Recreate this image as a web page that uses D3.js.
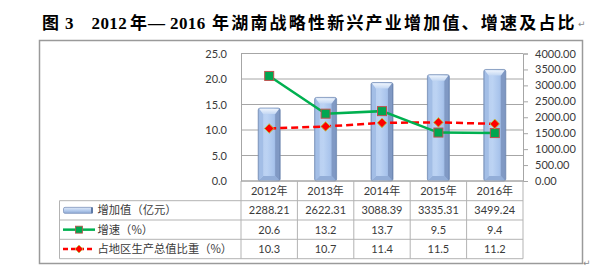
<!DOCTYPE html>
<html><head><meta charset="utf-8">
<script src="https://cdn.jsdelivr.net/npm/d3@7"></script>
<style>
html,body{margin:0;padding:0;background:#fff;}
svg{display:block;}
</style></head>
<body>
<svg id="c" width="614" height="276"></svg>
<script>
// ---- data ----
const titleParts = ["图", "3", "2012", "年", "—", "2016", "年湖南战略性新兴产业增加值、增速及占比"];
const years = ["2012年", "2013年", "2014年", "2015年", "2016年"];
const seriesNames = ["增加值（亿元）", "增速（%）", "占地区生产总值比重（%）"];
const addedValue = [2288.21, 2622.31, 3088.39, 3335.31, 3499.24];
const growth = [20.6, 13.2, 13.7, 9.5, 9.4];
const share = [10.3, 10.7, 11.4, 11.5, 11.2];
const leftTicks = [0, 5, 10, 15, 20, 25];
const rightTicks = [0, 500, 1000, 1500, 2000, 2500, 3000, 3500, 4000];
const tableValues = [
  ["2288.21", "2622.31", "3088.39", "3335.31", "3499.24"],
  ["20.6", "13.2", "13.7", "9.5", "9.4"],
  ["10.3", "10.7", "11.4", "11.5", "11.2"]
];

const svg = d3.select("#c");
const FONT = "Lato, 'Noto Sans CJK SC', sans-serif";
const TXT = "#3a3a3a";

// layout
const pl = 241, pr = 523, pt = 53.5, pb = 181;
const tableLeft = 59.5;
const rowY = [200.7, 220, 239.3, 258.7];

const xS = d3.scaleBand().domain(years).range([pl, pr]).paddingInner(0).paddingOuter(0);
const yL = d3.scaleLinear().domain([0, 25]).range([pb, pt]);
const yR = d3.scaleLinear().domain([0, 4000]).range([pb, pt]);
const midX = i => xS(years[i]) + xS.bandwidth() / 2;

// defs
const defs = svg.append("defs");
const g1 = defs.append("linearGradient").attr("id", "barG").attr("x1", 0).attr("x2", 1).attr("y1", 0).attr("y2", 0);
[[0, "#7f9bc8"], [0.12, "#b9cff0"], [0.4, "#bcd3f3"], [0.7, "#a9c4ec"], [0.88, "#91aedb"], [1, "#5f7aa6"]]
  .forEach(s => g1.append("stop").attr("offset", s[0]).attr("stop-color", s[1]));
const g2 = defs.append("linearGradient").attr("id", "capG").attr("x1", 0).attr("x2", 0).attr("y1", 0).attr("y2", 1);
[[0, "#eef4fc"], [1, "#c3d7f3"]].forEach(s => g2.append("stop").attr("offset", s[0]).attr("stop-color", s[1]));
const g3 = defs.append("linearGradient").attr("id", "keyG").attr("x1", 0).attr("x2", 0).attr("y1", 0).attr("y2", 1);
[[0, "#dfe9f8"], [0.5, "#b7cdee"], [1, "#8ea9d4"]].forEach(s => g3.append("stop").attr("offset", s[0]).attr("stop-color", s[1]));

// outer frame
svg.append("rect").attr("x", 39.5).attr("y", 40.5).attr("width", 543).attr("height", 223)
  .attr("fill", "#fff").attr("stroke", "#9a9a9a").attr("stroke-width", 1.5);

// gridlines
const grid = svg.append("g");
leftTicks.forEach(t => {
  grid.append("line").attr("x1", pl).attr("x2", pr).attr("y1", yL(t)).attr("y2", yL(t))
    .attr("stroke", "#a6a6a6").attr("stroke-width", 1);
});

// left axis
const axL = svg.append("g").attr("transform", `translate(${pl},0)`)
  .call(d3.axisLeft(yL).tickValues(leftTicks).tickFormat(d3.format(".1f")).tickSize(0).tickPadding(14));
axL.select(".domain").attr("stroke", "#a6a6a6");
axL.selectAll("text").attr("font-family", FONT).attr("font-size", 11).attr("fill", TXT);

// right axis
const axR = svg.append("g").attr("transform", `translate(${pr},0)`)
  .call(d3.axisRight(yR).tickValues(rightTicks).tickFormat(d3.format(".2f")).tickSize(5).tickPadding(7));
axR.select(".domain").attr("stroke", "#a6a6a6");
axR.selectAll("line").attr("stroke", "#a6a6a6");
axR.selectAll("text").attr("font-family", FONT).attr("font-size", 11).attr("fill", TXT).attr("text-anchor", "start");

// bars
const bw = 22;
addedValue.forEach((v, i) => {
  const x0 = midX(i) - bw / 2;
  const t = yR(v);
  svg.append("rect").attr("x", x0).attr("width", bw).attr("y", t).attr("height", pb - t)
    .attr("rx", 2).attr("fill", "url(#barG)").attr("stroke", "#7890b8").attr("stroke-width", 0.8);
  svg.append("path").attr("d", `M${x0 + bw - 1},${t + 0.8} L${x0 + bw - 1},${pb - 1} L${x0 + bw - 5},${pb - 5} L${x0 + bw - 5},${t + 6} Z`)
    .attr("fill", "#8099c4");
  svg.append("path").attr("d", `M${x0 + 1},${pb - 1} L${x0 + bw - 1},${pb - 1} L${x0 + bw - 5},${pb - 5} L${x0 + 5},${pb - 5} Z`)
    .attr("fill", "#93aed8");
  svg.append("path").attr("d", `M${x0 + 1},${t + 0.8} L${x0 + 5},${t + 6} L${x0 + 5},${pb - 5} L${x0 + 1},${pb - 1} Z`)
    .attr("fill", "#a3bee6");
  svg.append("path").attr("d", `M${x0 + 1},${t + 0.8} L${x0 + bw - 1},${t + 0.8} L${x0 + bw - 5},${t + 6} L${x0 + 5},${t + 6} Z`)
    .attr("fill", "url(#capG)");
});

// x axis line
svg.append("line").attr("x1", pl).attr("x2", pr).attr("y1", pb).attr("y2", pb).attr("stroke", "#a6a6a6");

// lines
const lineG = d3.line().x((d, i) => midX(i)).y(d => yL(d));
svg.append("path").datum(share).attr("d", lineG).attr("fill", "none")
  .attr("stroke", "#ff0000").attr("stroke-width", 2.5).attr("stroke-dasharray", "7,4");
svg.append("path").datum(growth).attr("d", lineG).attr("fill", "none")
  .attr("stroke", "#00b050").attr("stroke-width", 2.5);

const sq = 9;
growth.forEach((v, i) => {
  svg.append("rect").attr("x", midX(i) - sq / 2).attr("y", yL(v) - sq / 2).attr("width", sq).attr("height", sq)
    .attr("fill", "#00a650").attr("stroke", "#c0504d").attr("stroke-width", 1);
});
const dm = 4.8;
share.forEach((v, i) => {
  const X = midX(i), Y = yL(v);
  svg.append("path").attr("d", `M${X},${Y - dm} L${X + dm},${Y} L${X},${Y + dm} L${X - dm},${Y} Z`)
    .attr("fill", "#ff0000").attr("stroke", "#b5c94f").attr("stroke-width", 1);
});

// table
const tcol = "#b3b3b3";
rowY.forEach(yy => svg.append("line").attr("x1", tableLeft).attr("x2", pr).attr("y1", yy).attr("y2", yy)
  .attr("stroke", tcol).attr("stroke-width", 1));
svg.append("line").attr("x1", tableLeft).attr("x2", tableLeft).attr("y1", rowY[0]).attr("y2", rowY[3]).attr("stroke", tcol);
years.map(y => xS(y)).concat([pr]).forEach(xx =>
  svg.append("line").attr("x1", xx).attr("x2", xx).attr("y1", pb).attr("y2", rowY[3]).attr("stroke", tcol));

years.forEach((yr, i) => {
  svg.append("text").attr("x", midX(i)).attr("y", (pb + rowY[0]) / 2 + 4)
    .attr("text-anchor", "middle").attr("font-family", FONT).attr("font-size", 11).attr("fill", TXT).text(yr);
});

seriesNames.forEach((name, r) => {
  const cy = (rowY[r] + rowY[r + 1]) / 2;
  svg.append("text").attr("x", 97.5).attr("y", cy + 4)
    .attr("font-family", "'Noto Sans CJK SC', sans-serif").attr("font-size", 11.3).attr("fill", TXT).text(name);
  tableValues[r].forEach((v, i) => {
    svg.append("text").attr("x", midX(i)).attr("y", cy + 4)
      .attr("text-anchor", "middle").attr("font-family", FONT).attr("font-size", 11).attr("fill", TXT).text(v);
  });
});

const ky = [0, 1, 2].map(r => (rowY[r] + rowY[r + 1]) / 2);
svg.append("rect").attr("x", 63.5).attr("y", ky[0] - 3).attr("width", 29).attr("height", 6).attr("rx", 1.5)
  .attr("fill", "url(#keyG)").attr("stroke", "#7f96bd").attr("stroke-width", 0.8);
svg.append("rect").attr("x", 91).attr("y", ky[0] - 3).attr("width", 2).attr("height", 6).attr("fill", "#5f7aa6");
svg.append("line").attr("x1", 63).attr("x2", 95).attr("y1", ky[1]).attr("y2", ky[1]).attr("stroke", "#00b050").attr("stroke-width", 2.5);
svg.append("rect").attr("x", 79 - 3.5).attr("y", ky[1] - 3.5).attr("width", 7).attr("height", 7)
  .attr("fill", "#00a650").attr("stroke", "#c0504d").attr("stroke-width", 0.8);
svg.append("line").attr("x1", 63).attr("x2", 95).attr("y1", ky[2]).attr("y2", ky[2]).attr("stroke", "#ff0000")
  .attr("stroke-width", 2.5).attr("stroke-dasharray", "5,3");
svg.append("path").attr("d", `M79,${ky[2] - 4} L83,${ky[2]} L79,${ky[2] + 4} L75,${ky[2]} Z`)
  .attr("fill", "#ff0000").attr("stroke", "#b5c94f").attr("stroke-width", 0.8);

// title (explicitly positioned pieces, no textLength)
const titleX = [42, 65, 91.5, 130, 148, 170, 212];
const title = svg.append("text").attr("y", 28.5)
  .attr("font-family", "'Liberation Serif', 'Noto Sans CJK SC', serif")
  .attr("font-weight", "bold").attr("font-size", 17).attr("fill", "#000");
titleParts.forEach((p, i) => {
  title.append("tspan").attr("x", titleX[i])
    .attr("letter-spacing", i === titleParts.length - 1 ? 2.2 : 0.4)
    .text(p);
});
svg.append("text").attr("x", 578).attr("y", 27).attr("font-family", "DejaVu Sans")
  .attr("font-size", 9).attr("fill", "#8a8a8a").text("↵");
svg.append("text").attr("x", 583).attr("y", 266).attr("font-family", "DejaVu Sans")
  .attr("font-size", 9).attr("fill", "#8a8a8a").text("↵");
</script>
</body></html>
